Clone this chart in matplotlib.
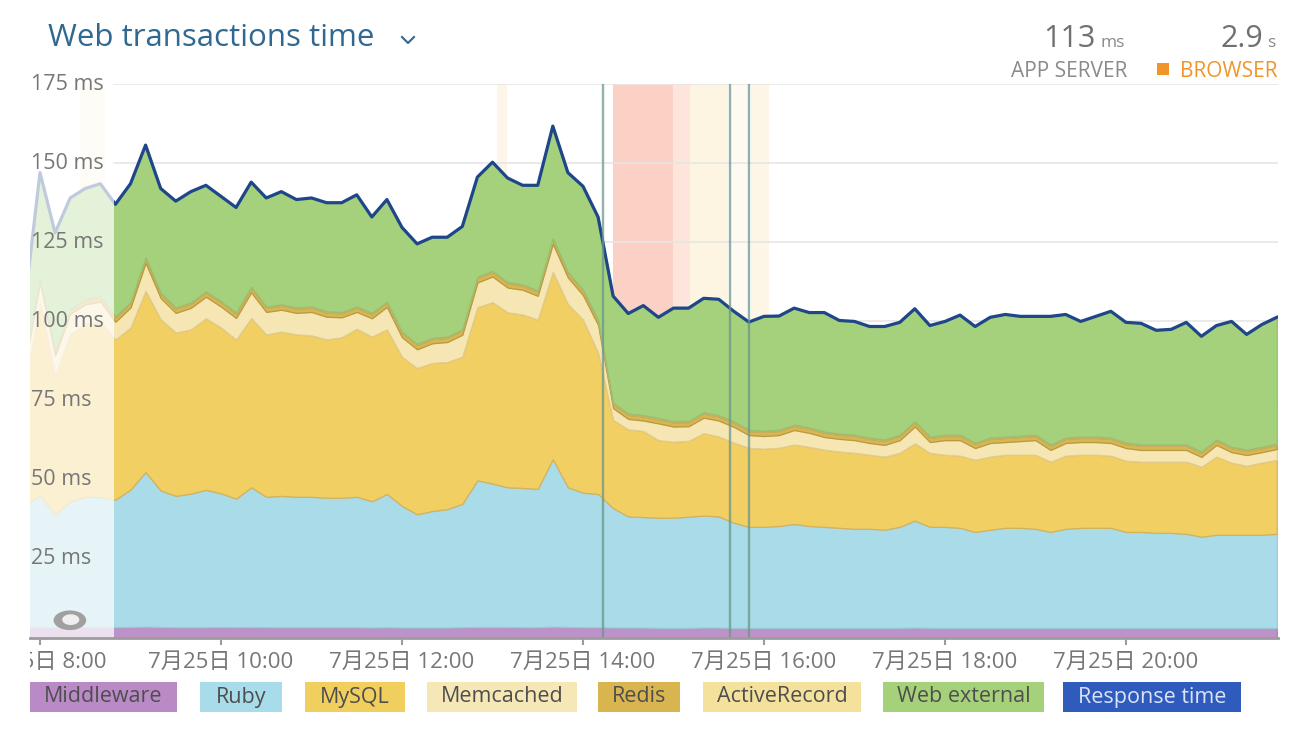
import numpy as np
import matplotlib.pyplot as plt
import matplotlib.transforms as mtransforms
from matplotlib.patches import Rectangle, Ellipse
from matplotlib.lines import Line2D

plt.rcParams['font.family'] = ['Open Sans', 'Noto Sans CJK JP', 'DejaVu Sans']

W, H = 1299, 741

# samples every 10 minutes, 7:50 -> 21:40 (hours of day)
hours = 7 + 50 / 60 + np.arange(84) / 6

# stacked layers, ms
middleware = [
    3.4, 3.4, 3.4, 3.5, 3.5, 3.4, 3.4, 3.5, 3.6, 3.5, 3.4, 3.4,
    3.4, 3.5, 3.4, 3.5, 3.4, 3.4, 3.4, 3.4, 3.4, 3.4, 3.4, 3.3,
    3.4, 3.3, 3.3, 3.3, 3.3, 3.4, 3.5, 3.5, 3.5, 3.4, 3.4, 3.6,
    3.5, 3.4, 3.4, 3.3, 3.3, 3.3, 3.2, 3.2, 3.2, 3.3, 3.3, 3.2,
    3.2, 3.2, 3.2, 3.2, 3.2, 3.2, 3.2, 3.2, 3.2, 3.2, 3.2, 3.3,
    3.2, 3.2, 3.2, 3.2, 3.2, 3.2, 3.2, 3.2, 3.2, 3.2, 3.2, 3.2,
    3.2, 3.2, 3.2, 3.2, 3.2, 3.2, 3.2, 3.2, 3.2, 3.2, 3.2, 3.2,
]
ruby = [
    38.6, 41.6, 35.6, 39.6, 41.1, 41.1, 40.3, 43.4, 48.8, 43.1, 41.5, 42.2,
    43.4, 42.2, 40.6, 44.1, 41.2, 41.5, 41.2, 41.2, 40.9, 40.9, 41.2, 39.9,
    42.1, 38.4, 35.8, 36.8, 37.4, 39.0, 46.3, 45.3, 44.1, 44.0, 43.7, 52.9,
    44.1, 42.5, 42.1, 37.7, 35.1, 34.9, 34.8, 34.8, 35.1, 35.4, 35.1, 33.2,
    31.9, 31.9, 32.2, 32.8, 32.2, 31.9, 31.6, 31.3, 31.3, 31.0, 31.9, 33.8,
    31.9, 31.9, 31.6, 30.3, 31.0, 31.6, 31.6, 31.3, 30.3, 31.3, 31.6, 31.6,
    31.6, 30.3, 30.3, 30.0, 30.0, 29.7, 28.8, 29.4, 29.4, 29.4, 29.4, 29.7,
]
mysql = [
    38.0, 61.0, 44.0, 53.0, 54.5, 55.5, 50.6, 51.2, 57.3, 54.1, 51.6, 51.9,
    54.2, 52.4, 50.3, 53.5, 51.3, 51.9, 51.3, 51.0, 50.0, 50.7, 53.1, 52.0,
    52.0, 47.1, 46.2, 46.8, 46.5, 46.5, 54.7, 57.3, 55.3, 54.8, 53.5, 59.2,
    57.9, 54.7, 44.7, 27.9, 27.5, 27.2, 24.5, 24.0, 24.0, 26.0, 25.3, 25.3,
    25.0, 24.7, 24.7, 25.1, 25.0, 24.4, 24.1, 24.0, 23.4, 23.1, 23.4, 24.4,
    23.4, 22.8, 22.8, 22.8, 23.1, 23.1, 23.1, 23.4, 22.2, 23.1, 23.1, 23.1,
    22.8, 22.5, 22.2, 22.5, 22.5, 22.8, 22.1, 24.7, 22.8, 21.8, 22.8, 23.4,
]
memcached = [
    6.3, 6.3, 6.3, 6.3, 6.3, 6.3, 5.6, 6.3, 8.8, 6.7, 6.2, 6.8,
    6.8, 6.6, 6.8, 8.1, 7.1, 6.9, 6.8, 7.4, 7.2, 6.3, 5.3, 5.8,
    7.1, 6.2, 5.9, 6.2, 6.3, 6.9, 7.8, 8.1, 7.8, 7.8, 7.5, 8.8,
    8.4, 7.7, 8.7, 3.7, 3.3, 3.3, 5.3, 4.8, 4.6, 4.9, 5.0, 5.0,
    4.0, 4.0, 4.0, 4.6, 4.4, 4.0, 4.0, 4.0, 3.7, 3.7, 4.0, 5.3,
    3.4, 4.6, 4.9, 3.7, 4.3, 4.0, 4.3, 4.6, 3.7, 4.0, 4.0, 4.0,
    4.0, 4.0, 3.7, 3.7, 3.7, 3.7, 3.1, 3.7, 3.3, 3.4, 3.3, 3.4,
]
redis = [
    1.3, 1.3, 1.3, 1.3, 1.3, 1.3, 1.3, 1.3, 1.4, 1.3, 1.3, 1.3,
    1.3, 1.3, 1.3, 1.4, 1.3, 1.3, 1.3, 1.3, 1.3, 1.3, 1.3, 1.3,
    1.3, 1.3, 1.3, 1.3, 1.3, 1.3, 1.4, 1.4, 1.3, 1.3, 1.3, 1.4,
    1.3, 1.3, 1.3, 1.3, 1.3, 1.3, 1.3, 1.3, 1.3, 1.3, 1.3, 1.3,
    1.3, 1.3, 1.3, 1.3, 1.3, 1.3, 1.3, 1.3, 1.3, 1.3, 1.3, 1.3,
    1.3, 1.3, 1.3, 1.3, 1.3, 1.3, 1.3, 1.3, 1.3, 1.3, 1.3, 1.3,
    1.3, 1.3, 1.3, 1.3, 1.3, 1.3, 1.3, 1.3, 1.3, 1.3, 1.3, 1.3,
]
activerecord = [
    0.4, 0.4, 0.4, 0.4, 0.4, 0.4, 0.4, 0.4, 0.4, 0.4, 0.4, 0.4,
    0.4, 0.4, 0.4, 0.4, 0.4, 0.4, 0.4, 0.4, 0.4, 0.4, 0.4, 0.4,
    0.4, 0.4, 0.4, 0.4, 0.4, 0.4, 0.4, 0.4, 0.4, 0.4, 0.4, 0.4,
    0.4, 0.4, 0.4, 0.4, 0.4, 0.4, 0.4, 0.4, 0.4, 0.4, 0.4, 0.4,
    0.4, 0.4, 0.4, 0.4, 0.4, 0.4, 0.4, 0.4, 0.4, 0.4, 0.4, 0.4,
    0.4, 0.4, 0.4, 0.4, 0.4, 0.4, 0.4, 0.4, 0.4, 0.4, 0.4, 0.4,
    0.4, 0.4, 0.4, 0.4, 0.4, 0.4, 0.4, 0.4, 0.4, 0.4, 0.4, 0.4,
]
web_external = [
    18.0, 33.0, 37.0, 35.0, 35.0, 35.5, 35.4, 37.5, 35.7, 33.0, 33.6, 35.0,
    33.5, 33.2, 33.2, 33.2, 34.3, 35.6, 34.1, 34.3, 34.3, 34.5, 35.3, 30.2,
    32.2, 32.9, 31.5, 31.7, 31.3, 32.5, 31.7, 34.5, 33.0, 31.3, 33.2, 35.7,
    31.5, 32.7, 32.4, 33.6, 31.5, 34.5, 31.8, 35.7, 35.6, 36.1, 36.7, 34.8,
    34.0, 36.1, 35.9, 36.8, 36.3, 37.6, 35.7, 35.8, 35.1, 35.7, 35.5, 35.6,
    35.1, 35.8, 37.8, 36.7, 38.0, 38.6, 37.7, 37.4, 40.5, 38.9, 36.4, 38.0,
    39.9, 38.0, 38.3, 36.1, 36.4, 38.6, 36.4, 36.0, 39.6, 36.4, 38.6, 39.9,
]
response_time = [
    106.0, 147.0, 128.0, 139.0, 142.0, 143.5, 137.0, 143.5, 155.7, 142.0, 138.0, 141.0,
    143.0, 139.5, 136.0, 144.0, 139.0, 141.0, 138.5, 139.0, 137.5, 137.5, 140.0, 133.0,
    138.5, 129.7, 124.5, 126.6, 126.6, 130.0, 145.6, 150.3, 145.3, 143.0, 143.0, 161.7,
    147.0, 142.7, 133.0, 108.0, 102.5, 105.0, 101.3, 104.2, 104.2, 107.3, 107.0, 103.2,
    99.8, 101.6, 101.7, 104.2, 102.8, 102.8, 100.3, 100.0, 98.4, 98.4, 99.7, 104.0,
    98.7, 100.0, 102.0, 98.4, 101.3, 102.2, 101.6, 101.6, 101.6, 102.2, 100.0, 101.6,
    103.2, 99.7, 99.4, 97.2, 97.5, 99.7, 95.3, 98.7, 100.0, 95.9, 99.0, 101.3,
]

series_names = ['Middleware', 'Ruby', 'MySQL', 'Memcached', 'Redis', 'ActiveRecord',
                'Web external', 'Response time']
fill_colors = ['#bd92c9', '#a9dbe8', '#f1cf62', '#f6e6b4', '#d8b652', '#f3e09e', '#a5d17c']
edge_colors = ['#a983b5', '#9cc9d6', '#d3b25a', '#e3cd8e', '#b99a3f', '#c9b060', '#98bf6f']
response_color = '#1e4689'
legend_colors = ['#b98ac6', '#a8dcea', '#f1cf5f', '#f6e7b6', '#d8b54e', '#f4e19c', '#a6d17b', '#2f5bbd']

xticks = [8, 10, 12, 14, 16, 18, 20]
xtick_labels = ['7月25日 8:00', '7月25日 10:00', '7月25日 12:00', '7月25日 14:00',
                '7月25日 16:00', '7月25日 18:00', '7月25日 20:00']
yticks = [25, 50, 75, 100, 125, 150, 175]

# event markers (hours)
event_lines = [14.221, 15.624, 15.834]
event_bands = [(13.05, 13.16, '#fdf5e8'), (14.33, 14.99, '#fbd1c5'),
               (14.99, 15.18, '#fde5db'), (15.18, 15.60, '#fdf4e2'),
               (15.63, 15.82, '#fefaf1'), (15.86, 16.06, '#fdf5e5'),
               (8.44, 8.72, '#fdf5e6')]

fig = plt.figure(figsize=(W / 100, H / 100), dpi=100)
ax = fig.add_axes([30 / W, 1 - 638 / H, (1278 - 30) / W, (638 - 84) / H])
ax.set_xlim(7.8895, 21.68)
ax.set_ylim(0, 175)

for t0, t1, c in event_bands:
    ax.axvspan(t0, t1, color=c, lw=0, zorder=0.5)

for v in yticks:
    ax.axhline(v, xmin=(113 - 30) / 1248, color='#e6e6e6', lw=1.2, zorder=1)

polys = ax.stackplot(hours, middleware, ruby, mysql, memcached, redis, activerecord,
                     web_external, colors=fill_colors, zorder=2, linewidth=0.9)
for p, ec in zip(polys, edge_colors):
    p.set_edgecolor(ec)

ax.plot(hours, response_time, color=response_color, lw=2.3, zorder=3,
        solid_joinstyle='round')

for t in event_lines:
    ax.axvline(t, color='#6a978a', lw=1.7, alpha=0.75, zorder=4)

# dimmed region on the left
ax.axvspan(7.8895, 8.818, color='white', alpha=0.72, lw=0, zorder=5)
ax.add_patch(Ellipse((8.33, 5.6), 0.36, 6.2, facecolor='#a0a0a0', edgecolor='none', zorder=6))
ax.add_patch(Ellipse((8.34, 5.8), 0.19, 3.4, facecolor='#efefef', edgecolor='none', zorder=7))

ytrans = mtransforms.blended_transform_factory(ax.transAxes, ax.transData)
for v in yticks:
    ax.text(0.001, v, f'{v} ms', transform=ytrans, ha='left', va='center',
            fontsize=15.5, color='#777777', zorder=8)

for s in ['left', 'right', 'top']:
    ax.spines[s].set_visible(False)
ax.spines['bottom'].set_color('#9c9c9c')
ax.spines['bottom'].set_linewidth(2)
ax.spines['bottom'].set_zorder(9)
ax.set_yticks([])
ax.set_xticks(xticks)
ax.set_xticklabels(xtick_labels)
ax.tick_params(axis='x', length=5, width=1.5, color='#9c9c9c', labelcolor='#777777',
               labelsize=16, pad=5)

# hide the part of the first tick label left of the plot
fig.add_artist(Rectangle((0, 1 - 680 / H), 29.5 / W, 40 / H, transform=fig.transFigure,
                         facecolor='white', edgecolor='none', zorder=10))

# legend chips
chips = [(30, 177), (200, 282), (305, 405), (427, 577), (598, 680), (703, 861),
         (883, 1044), (1063, 1241)]
for name, (x0, x1), c in zip(series_names, chips, legend_colors):
    fig.add_artist(Rectangle((x0 / W, 1 - 712 / H), (x1 - x0) / W, 30 / H,
                             transform=fig.transFigure, facecolor=c, edgecolor='none'))
    tc = '#dbe4f6' if name == 'Response time' else '#4e4e4e'
    fig.text((x0 + x1) / 2 / W, 1 - 697 / H, name, ha='center', va='center',
             fontsize=15.5, color=tc)

# header
fig.text(48 / W, 1 - 38 / H, 'Web transactions time', ha='left', va='center',
         fontsize=22.5, color='#2f6891')
fig.add_artist(Line2D([402 / W, 408 / W, 414 / W], [1 - 37 / H, 1 - 43 / H, 1 - 37 / H],
                      transform=fig.transFigure, color='#2f6891', lw=1.5))

fig.text(1096 / W, 1 - 47 / H, '113', ha='right', va='baseline', fontsize=22, color='#707070')
fig.text(1100 / W, 1 - 47 / H, 'ms', ha='left', va='baseline', fontsize=12.5, color='#8a8a8a')
fig.text(1263 / W, 1 - 47 / H, '2.9', ha='right', va='baseline', fontsize=22, color='#707070')
fig.text(1267 / W, 1 - 47 / H, 's', ha='left', va='baseline', fontsize=12.5, color='#8a8a8a')
fig.text(1127 / W, 1 - 77 / H, 'APP SERVER', ha='right', va='baseline', fontsize=15,
         color='#8a8a8a')
fig.add_artist(Rectangle((1157 / W, 1 - 75 / H), 12 / W, 12 / H, transform=fig.transFigure,
                         facecolor='#f0952a', edgecolor='none'))
fig.text(1277 / W, 1 - 77 / H, 'BROWSER', ha='right', va='baseline', fontsize=15,
         color='#f0952a')

fig.savefig('out.png', dpi=100, facecolor='white')
